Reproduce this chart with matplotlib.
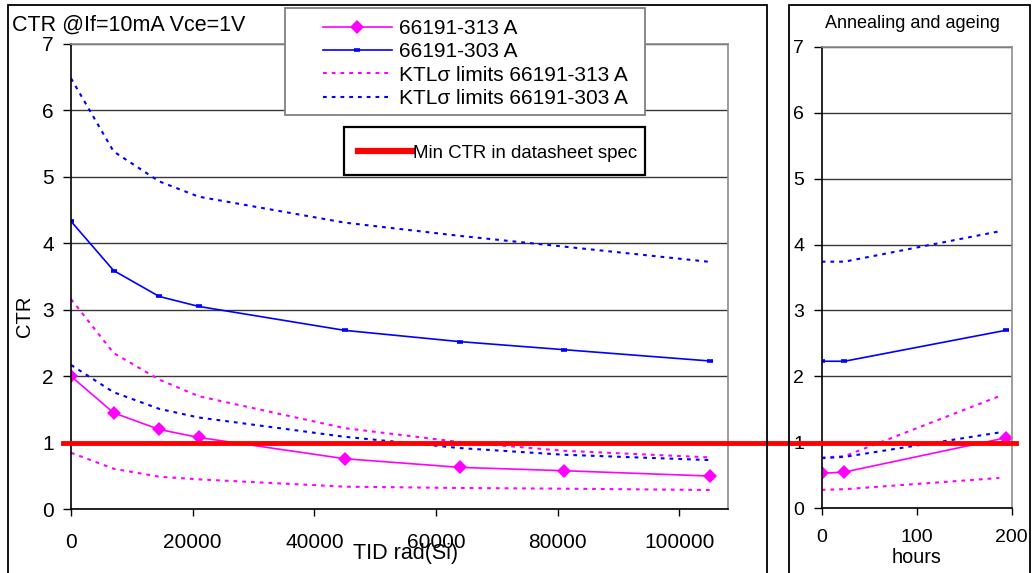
import matplotlib
matplotlib.use("Agg")
import matplotlib.pyplot as plt
from matplotlib.patches import Rectangle
from matplotlib.lines import Line2D

plt.rcParams["font.family"] = ["Liberation Sans", "DejaVu Sans"]

# irradiation step: dose in rad(Si)
dose = [0, 7000, 14500, 21000, 45000, 64000, 81000, 105000]
ctr_313 = [2.00, 1.45, 1.20, 1.08, 0.76, 0.63, 0.58, 0.50]
ctr_303 = [4.33, 3.59, 3.20, 3.05, 2.69, 2.52, 2.40, 2.23]
ktl_313_hi = [3.16, 2.35, 1.95, 1.70, 1.22, 1.01, 0.88, 0.78]
ktl_313_lo = [0.85, 0.61, 0.49, 0.45, 0.34, 0.32, 0.31, 0.29]
ktl_303_hi = [6.48, 5.38, 4.93, 4.70, 4.31, 4.11, 3.95, 3.72]
ktl_303_lo = [2.17, 1.76, 1.51, 1.38, 1.09, 0.92, 0.82, 0.74]

# annealing / ageing step: time in hours
hours = [0, 24, 194]
hours_ktl = [0, 24, 187]
ann_313 = [0.53, 0.55, 1.07]
ann_303 = [2.23, 2.23, 2.70]
ann_313_hi = [0.77, 0.79, 1.70]
ann_313_lo = [0.28, 0.29, 0.46]
ann_303_hi = [3.74, 3.74, 4.20]
ann_303_lo = [0.76, 0.78, 1.15]

spec_min = 1.0

pink = "#ff00ff"
blue = "#0000ff"
dots = (0, (1.8, 2.4))
dot_lw = 1.5

fig = plt.figure(figsize=(10.32, 5.73), dpi=100)
ax = fig.add_axes([0.0688, 0.1112, 0.6366, 0.8125], zorder=2)
ax2 = fig.add_axes([0.7962, 0.1129, 0.1841, 0.8056], zorder=1)
ax2.set_facecolor("none")


def style_axes(a, size, xpad):
    a.set_ylim(0, 7)
    a.set_yticks(range(8))
    a.grid(axis="y", color="#383838", lw=1.0)
    a.set_axisbelow(True)
    a.spines["left"].set_color("black")
    a.spines["bottom"].set_color("black")
    a.spines["top"].set_color("#8c8c8c")
    a.spines["right"].set_color("#8c8c8c")
    for s in a.spines.values():
        s.set_linewidth(1.2)
    a.tick_params(axis="y", length=5.5, width=1, pad=7, labelsize=size)
    a.tick_params(axis="x", length=5, width=1, pad=xpad, labelsize=size)


# left panel: CTR vs dose
ax.plot(dose, ktl_313_hi, color=pink, lw=dot_lw, ls=dots)
ax.plot(dose, ktl_313_lo, color=pink, lw=dot_lw, ls=dots)
ax.plot(dose, ktl_303_hi, color=blue, lw=dot_lw, ls=dots)
ax.plot(dose, ktl_303_lo, color=blue, lw=dot_lw, ls=dots)
ax.plot(dose, ctr_303, color=blue, lw=1.2, marker="_", ms=5, mew=2.6)
ax.plot(dose, ctr_313, color=pink, lw=1.2, marker="D", ms=6.8, mew=0)
ax.set_xlim(0, 108000)
ax.set_xticks([0, 20000, 40000, 60000, 80000, 100000])
style_axes(ax, 15, 12)

# datasheet limit runs across both panels
ax.axhline(spec_min, xmin=-0.012, xmax=1.438, color="#ff0000", lw=3.5,
           clip_on=False, zorder=10)

# right panel: annealing and ageing
ax2.plot(hours_ktl, ann_313_hi, color=pink, lw=dot_lw, ls=dots)
ax2.plot(hours_ktl, ann_313_lo, color=pink, lw=dot_lw, ls=dots)
ax2.plot(hours_ktl, ann_303_hi, color=blue, lw=dot_lw, ls=dots)
ax2.plot(hours_ktl, ann_303_lo, color=blue, lw=dot_lw, ls=dots)
ax2.plot(hours, ann_303, color=blue, lw=1.2, marker="_", ms=5, mew=2.6)
ax2.plot(hours, ann_313, color=pink, lw=1.2, marker="D", ms=6.8, mew=0)
ax2.set_xlim(0, 200)
ax2.set_xticks([0, 100, 200])
style_axes(ax2, 14, 10)

# outer chart frames
fig.add_artist(Rectangle((0.0078, -0.05), 0.7352, 1.0413, transform=fig.transFigure,
                         fill=False, ec="black", lw=1.3, zorder=4))
fig.add_artist(Rectangle((0.7645, -0.05), 0.2335, 1.0413, transform=fig.transFigure,
                         fill=False, ec="black", lw=1.3, zorder=4))

# legend frames
fig.add_artist(Rectangle((0.2762, 0.7993), 0.3488, 0.1867, transform=fig.transFigure,
                         fc="white", ec="#808080", lw=1.3, zorder=4))
fig.add_artist(Rectangle((0.3333, 0.6946), 0.2917, 0.0838, transform=fig.transFigure,
                         fc="white", ec="black", lw=1.6, zorder=4))

handles = [
    Line2D([], [], color=pink, lw=1.2, marker="D", ms=6.8, mew=0),
    Line2D([], [], color=blue, lw=1.2, marker="_", ms=5, mew=2.6),
    Line2D([], [], color=pink, lw=dot_lw, ls=dots),
    Line2D([], [], color=blue, lw=dot_lw, ls=dots),
]
labels = ["66191-313 A", "66191-303 A",
          "KTLσ limits 66191-313 A", "KTLσ limits 66191-303 A"]
leg = fig.legend(handles, labels, loc="upper left", bbox_to_anchor=(0.313, 0.967),
                 frameon=False, fontsize=15, borderpad=0, borderaxespad=0,
                 handlelength=3.3, handletextpad=0.35, labelspacing=0.21)
leg.set_zorder(5)

leg2 = fig.legend([Line2D([], [], color="#ff0000", lw=4.5)], ["Min CTR in datasheet spec"],
                  loc="center left", bbox_to_anchor=(0.347, 0.733), frameon=False,
                  fontsize=13.4, borderpad=0, borderaxespad=0,
                  handlelength=2.9, handletextpad=0.05)
leg2.set_zorder(5)

fig.text(0.0116, 0.9564, "CTR @If=10mA Vce=1V", fontsize=15.5, va="center")
fig.text(0.8845, 0.9593, "Annealing and ageing", fontsize=13, ha="center", va="center")
fig.text(0.0242, 0.4485, "CTR", fontsize=14.5, rotation=90, ha="center", va="center")
fig.text(0.3934, 0.0244, "TID rad(Si)", fontsize=15.5, ha="center", va="baseline")
fig.text(0.8883, 0.018, "hours", fontsize=14.3, ha="center", va="baseline")

fig.savefig("out.png", dpi=100)
